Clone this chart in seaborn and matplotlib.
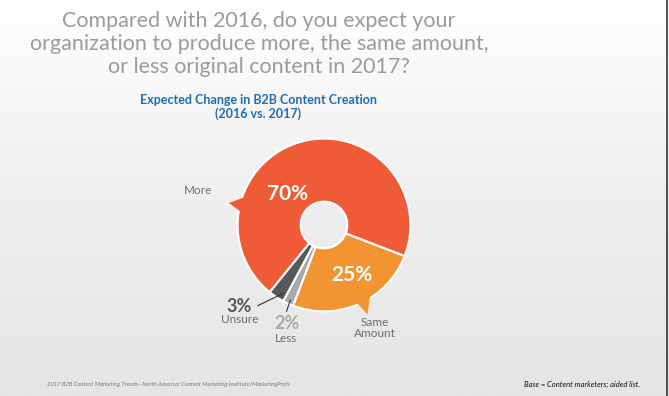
import numpy as np
import seaborn as sns
import matplotlib.pyplot as plt
from matplotlib.colors import LinearSegmentedColormap
from matplotlib.patches import Polygon

# data
labels = ['Same\nAmount', 'Less', 'Unsure', 'More']
values = [25, 2, 3, 70]
colors = ['#f39433', '#a8a9ac', '#58585a', '#ef5b36']

title = 'Compared with 2016, do you expect your\norganization to produce more, the same amount,\nor less original content in 2017?'
subtitle = 'Expected Change in B2B Content Creation\n(2016 vs. 2017)'
source = '2017 B2B Content Marketing Trends\u2014North America: Content Marketing Institute/MarketingProfs'
base_note = 'Base = Content marketers; aided list.'

sns.set_theme(style='white')
plt.rcParams['font.family'] = ['Lato', 'DejaVu Sans']

W, H = 669, 396
fig = plt.figure(figsize=(W / 100, H / 100), dpi=100)

# background gradient
bg = fig.add_axes([0, 0, 1, 1])
grad = np.linspace(0, 1, 256).reshape(-1, 1)
bg_cmap = LinearSegmentedColormap.from_list('bg', ['#ffffff', '#efefef', '#e5e5e5'])
bg.imshow(grad, aspect='auto', cmap=bg_cmap, extent=[0, 1, 0, 1], vmin=0, vmax=1, origin='upper')
bg.axvline(0.997, color='#333333', lw=1.2)
bg.set_axis_off()

# pie axes: center (324, 225) px, radius 90 px
cx, cy, R = 324, 225, 90
span = 1.2
ax = fig.add_axes([(cx - R * span) / W, (H - cy - R * span) / H, 2 * R * span / W, 2 * R * span / H])
ax.set_xlim(-span, span)
ax.set_ylim(-span, span)
ax.set_aspect('equal')
ax.set_axis_off()

wedges, _ = ax.pie(values, colors=colors, startangle=-21, counterclock=False,
                   radius=1, wedgeprops=dict(width=0.73, edgecolor='white', linewidth=1.5))


def to_data(x, y):
    return (x - cx) / R, (cy - y) / R


def tail(a1, a2, tip_a, tip_r, color):
    pts = [(0.94 * np.cos(np.radians(a)), 0.94 * np.sin(np.radians(a))) for a in (a1, a2)]
    tip = (tip_r * np.cos(np.radians(tip_a)), tip_r * np.sin(np.radians(tip_a)))
    ax.add_patch(Polygon([pts[0], tip, pts[1]], closed=True, color=color, lw=0, zorder=3))


# speech-bubble tails
tail(159, 172, 167, 1.13, colors[3])
tail(-55, -68, -64, 1.15, colors[0])

# value labels inside
ax.text(*to_data(286, 193), f'{values[3]}%', color='white', fontsize=15, fontweight='bold',
        ha='center', va='center', zorder=4)
ax.text(*to_data(353, 277), f'{values[0]}%', color='white', fontsize=15, fontweight='bold',
        ha='center', va='center', zorder=4)

# outside labels
lab_col = '#6d6e71'
ax.text(*to_data(193, 189), 'More', color=lab_col, fontsize=8.5, ha='center', va='center')
ax.text(*to_data(377, 332), labels[0], color=lab_col, fontsize=8.5, ha='center', va='center',
        linespacing=1.0)
ax.text(*to_data(236, 310), f'{values[2]}%', color='#58585a', fontsize=13, fontweight='bold',
        ha='center', va='center')
ax.text(*to_data(236, 323), labels[2], color=lab_col, fontsize=8.5, ha='center', va='center')
ax.text(*to_data(285, 328), f'{values[1]}%', color='#a8a9ac', fontsize=13, fontweight='bold',
        ha='center', va='center')
ax.text(*to_data(284, 343), labels[1], color=lab_col, fontsize=8.5, ha='center', va='center')
ax.plot(*zip(to_data(255, 309), to_data(282, 296)), color='#333333', lw=0.8)
ax.plot(*zip(to_data(285, 315), to_data(289, 303)), color='#333333', lw=0.8)

# titles
fig.text(259 / W, 1 - 44 / H, title, color='#9a9b9d', fontsize=15.5, ha='center', va='center',
         linespacing=1.18)
fig.text(258 / W, 1 - 107 / H, subtitle, color='#1f6db3', fontsize=9, fontweight='bold',
         ha='center', va='center', linespacing=1.1)

# footer
fig.text(47 / W, 1 - 384 / H, source, color='#7a7a7a', fontsize=4.2, style='italic',
         ha='left', va='center')
fig.text(640 / W, 1 - 384 / H, base_note, color='#111111', fontsize=5.5, style='italic',
         ha='right', va='center')

fig.savefig('out.png', dpi=100)
